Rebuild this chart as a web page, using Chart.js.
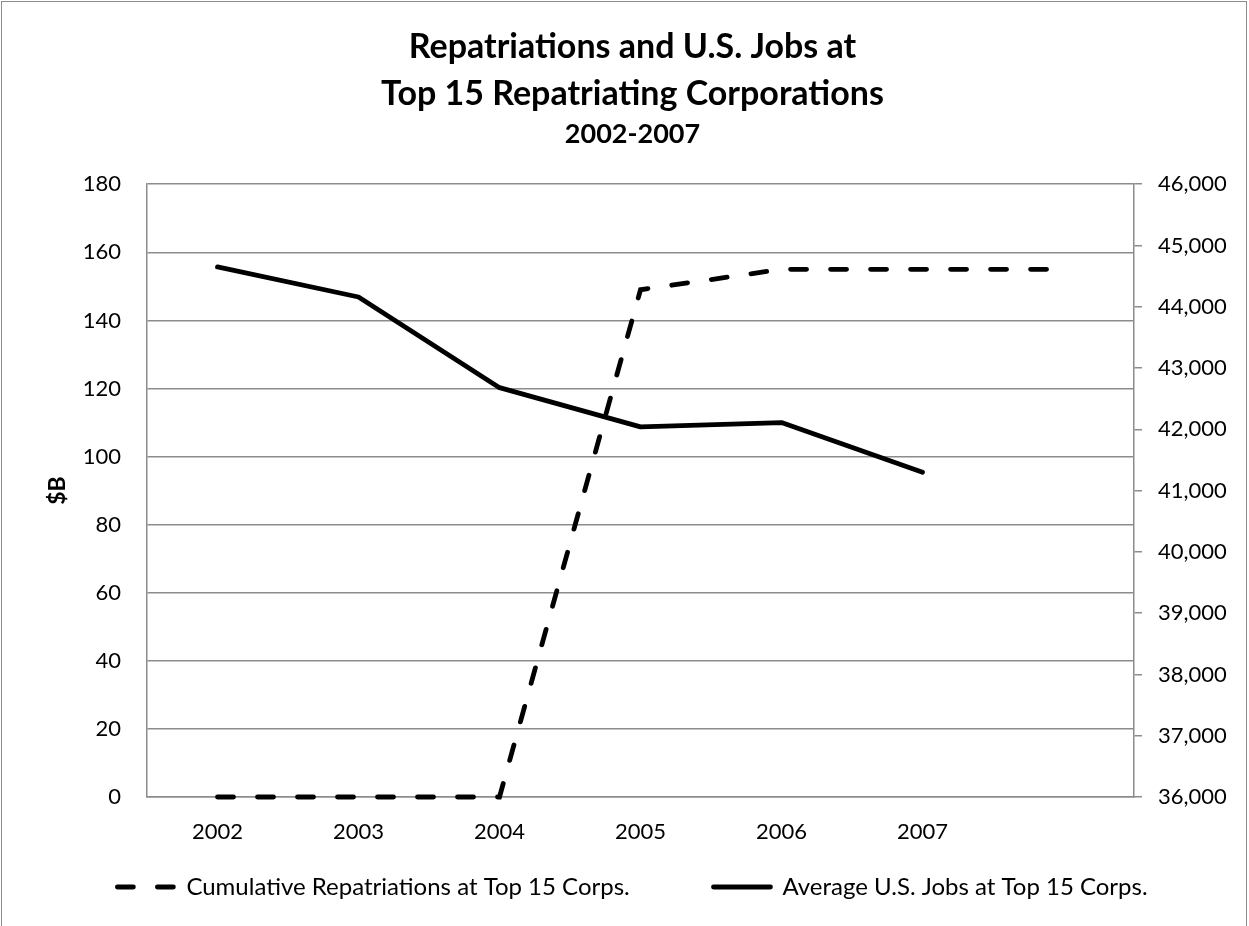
<!DOCTYPE html>
<html>
<head>
<meta charset="utf-8">
<script src="https://cdn.jsdelivr.net/npm/chart.js@4.4.0/dist/chart.umd.min.js"></script>
<style>
  html, body { margin: 0; padding: 0; background: #fff; overflow: hidden; }
  #frame {
    position: absolute; left: 1px; top: 1px;
    width: 1244px; height: 980px;
    border: 1.5px solid #8c8c8c;
  }
  #wrap { position: absolute; left: 0; top: 0; width: 1249px; height: 926px; }
</style>
</head>
<body>
<div id="frame"></div>
<div id="wrap"><canvas id="chart" width="1249" height="926"></canvas></div>
<script>
// chart data
const years = ['2002', '2003', '2004', '2005', '2006', '2007', ''];
const repatriations = [0, 0, 0, 149, 155, 155, 155];      // $B, left axis
const usJobs = [44650, 44160, 42680, 42040, 42110, 41300, null]; // right axis

const leftMin = 0, leftMax = 180, leftStep = 20;
const rightMin = 36000, rightMax = 46000, rightStep = 1000;

const FONT = 'Lato, "Open Sans", sans-serif';
const GRID = '#8c8c8c';
const LINE_W = 4.8;
const DASH = [16, 24];

const ctx = document.getElementById('chart');

new Chart(ctx, {
    type: 'line',
    data: {
        labels: years,
        datasets: [
            {
                label: 'Cumulative Repatriations at Top 15 Corps.',
                data: repatriations,
                yAxisID: 'y',
                borderColor: '#000',
                backgroundColor: '#000',
                borderWidth: LINE_W,
                borderDash: DASH,
                borderCapStyle: 'round',
                pointRadius: 0,
                tension: 0,
                clip: false
            },
            {
                label: 'Average U.S. Jobs at Top 15 Corps.',
                data: usJobs,
                yAxisID: 'y2',
                borderColor: '#000',
                backgroundColor: '#000',
                borderWidth: LINE_W,
                borderCapStyle: 'round',
                borderJoinStyle: 'round',
                pointRadius: 0,
                tension: 0,
                clip: false
            }
        ]
    },
    options: {
        responsive: false,
        animation: false,
        layout: { padding: { left: 16, right: 0, top: 0, bottom: 17 } },
        plugins: {
            title: {
                display: true,
                text: ['Repatriations and U.S. Jobs at', 'Top 15 Repatriating Corporations'],
                color: '#000',
                font: { family: FONT, size: 34, weight: 'bold', lineHeight: 1.38 },
                padding: { top: 24, bottom: 0 }
            },
            subtitle: {
                display: true,
                text: '2002-2007',
                color: '#000',
                font: { family: FONT, size: 27, weight: 'bold', lineHeight: 1.2 },
                padding: { top: 0, bottom: 34 }
            },
            legend: {
                position: 'bottom',
                labels: {
                    color: '#000',
                    font: { family: FONT, size: 24 },
                    usePointStyle: true,
                    pointStyle: 'line',
                    pointStyleWidth: 57,
                    padding: 10,
                    generateLabels: (chart) => {
                        const items = Chart.defaults.plugins.legend.labels.generateLabels(chart);
                        items.forEach((item, i) => {
                            item.lineWidth = LINE_W;
                            item.lineCap = 'round';
                            item.strokeStyle = '#000';
                            item.lineDash = i === 0 ? DASH : [];
                        });
                        // widen the first entry so the second one sits where it does in the original
                        items[0].text += '\u00a0'.repeat(12);
                        return items;
                    }
                }
            },
            tooltip: { enabled: false }
        },
        scales: {
            x: {
                type: 'category',
                offset: true,
                grid: { display: false },
                border: { display: true, color: GRID, width: 1.5 },
                ticks: {
                    color: '#000',
                    font: { family: FONT, size: 22 },
                    padding: 14,
                    maxRotation: 0,
                    autoSkip: false
                },
                afterFit: (scale) => { scale.height = 68; }
            },
            y: {
                position: 'left',
                min: leftMin,
                max: leftMax,
                grid: { color: GRID, lineWidth: 1.5, drawTicks: false },
                border: { display: true, color: GRID, width: 1.5 },
                ticks: {
                    stepSize: leftStep,
                    color: '#000',
                    font: { family: FONT, size: 22 },
                    padding: 26
                },
                title: {
                    display: true,
                    text: '$B',
                    color: '#000',
                    font: { family: FONT, size: 23, weight: 'bold' },
                    padding: { top: 28, bottom: 0 }
                },
                afterFit: (scale) => { scale.width = 131; }
            },
            y2: {
                position: 'right',
                min: rightMin,
                max: rightMax,
                grid: { drawOnChartArea: false, drawTicks: true, tickLength: 8, color: GRID, lineWidth: 1.5 },
                border: { display: true, color: GRID, width: 1.5 },
                ticks: {
                    stepSize: rightStep,
                    color: '#000',
                    font: { family: FONT, size: 22 },
                    padding: 16,
                    callback: (v) => v.toLocaleString('en-US')
                },
                afterFit: (scale) => { scale.width = 115; }
            }
        }
    }
});
</script>
</body>
</html>
